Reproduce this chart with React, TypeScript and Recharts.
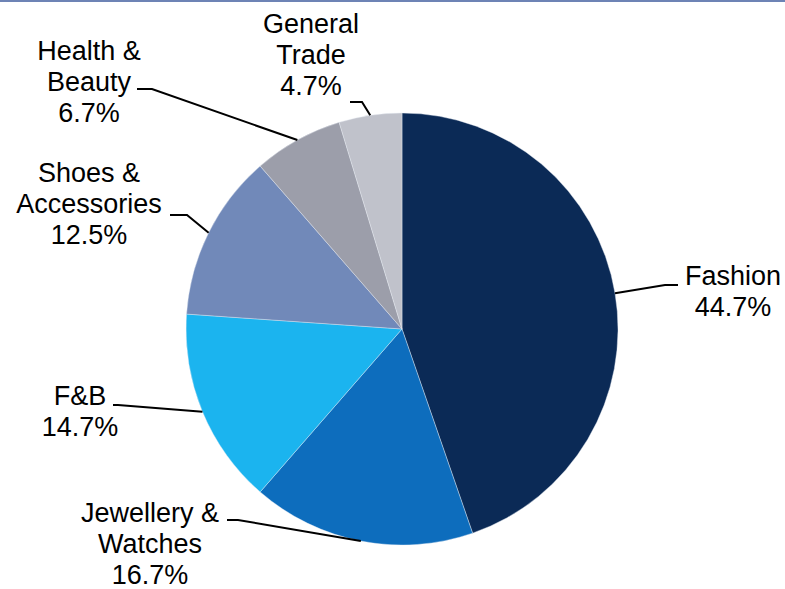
import { PieChart, Pie, Cell } from "recharts";

// sector names, broken into the lines they are printed on
const categoryLines = [
  ["Fashion"],
  ["Jewellery &", "Watches"],
  ["F&B"],
  ["Shoes &", "Accessories"],
  ["Health &", "Beauty"],
  ["General", "Trade"],
];

// share of retail floor area, %
const shares = [44.7, 16.7, 14.7, 12.5, 6.7, 4.7];

const sliceColors = ["#0b2a56", "#0d6dbd", "#1bb4ef", "#7189b9", "#9c9eaa", "#c0c2cb"];

// where each callout sits: text centre / first baseline, then the leader's elbow and end
const calloutLayout = [
  { tx: 733, ty: 285, ex: 665, ey: 285, endX: 678 },
  { tx: 150, ty: 522, ex: 238, ey: 520, endX: 227 },
  { tx: 80, ty: 405, ex: 118, ey: 405, endX: 113 },
  { tx: 89, ty: 182, ex: 187, ey: 215, endX: 170 },
  { tx: 89, ty: 60, ex: 152, ey: 89, endX: 137 },
  { tx: 311, ty: 33, ex: 362, ey: 102, endX: 350 },
];

const data = shares.map((value, i) => ({
  name: categoryLines[i].join(" "),
  value,
}));

const FONT = '"Liberation Sans", Arial, sans-serif';
const LINE_H = 31;
const RAD = Math.PI / 180;

const renderCallout = (props: any) => {
  const { cx, cy, midAngle, outerRadius, index, value } = props;
  const spot = calloutLayout[index];
  const sx = cx + outerRadius * Math.cos(-midAngle * RAD);
  const sy = cy + outerRadius * Math.sin(-midAngle * RAD);
  const lines = [...categoryLines[index], `${Number(value).toFixed(1)}%`];
  return (
    <g key={`callout-${index}`}>
      <polyline
        points={`${sx},${sy} ${spot.ex},${spot.ey} ${spot.endX},${spot.ey}`}
        fill="none"
        stroke="#000"
        strokeWidth={2}
      />
      <text
        x={spot.tx}
        y={spot.ty}
        textAnchor="middle"
        fontFamily={FONT}
        fontSize={27}
        fill="#000"
      >
        {lines.map((line, j) => (
          <tspan key={j} x={spot.tx} dy={j === 0 ? 0 : LINE_H}>
            {line}
          </tspan>
        ))}
      </text>
    </g>
  );
};

export default function App() {
  return (
    <div
      style={{
        position: "absolute",
        left: 0,
        top: 0,
        width: 785,
        height: 589,
        background: "#fff",
        overflow: "hidden",
      }}
    >
      <div style={{ position: "absolute", left: 0, top: 0, width: 785, height: 2, background: "#6d83b5" }} />
      <PieChart width={785} height={589} margin={{ top: 0, right: 0, bottom: 0, left: 0 }}>
        <Pie
          data={data}
          dataKey="value"
          nameKey="name"
          cx={402}
          cy={329}
          outerRadius={216}
          startAngle={90}
          endAngle={-270}
          stroke="#e8edf5"
          strokeWidth={0.4}
          label={renderCallout}
          labelLine={false}
          isAnimationActive={false}
        >
          {data.map((d, i) => (
            <Cell key={d.name} fill={sliceColors[i]} />
          ))}
        </Pie>
      </PieChart>
    </div>
  );
}
